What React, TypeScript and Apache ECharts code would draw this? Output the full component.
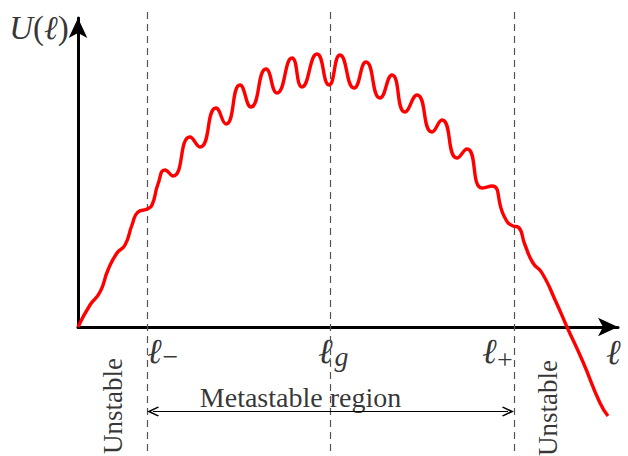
import React, { useEffect, useRef } from 'react';
import * as echarts from 'echarts';

// Potential curve U(ℓ) (extremes of the ripples and shoulder points)
const curveX = [0, 0.12, 0.22, 0.30, 0.39, 0.47, 0.54, 0.60, 0.69, 0.74, 0.80, 0.87, 0.95, 1.12, 1.22, 1.38, 1.48, 1.62, 1.73, 1.88, 1.99, 2.14, 2.24, 2.39, 2.51, 2.62, 2.76, 2.88, 3.02, 3.14, 3.27, 3.39, 3.54, 3.64, 3.79, 3.89, 4.04, 4.14, 4.26, 4.35, 4.40, 4.47, 4.55, 4.64, 4.78, 4.89, 5.05, 5.22, 5.30];
const curveY = [0, 0.22, 0.35, 0.57, 0.74, 0.82, 1.02, 1.15, 1.18, 1.22, 1.43, 1.57, 1.51, 1.90, 1.80, 2.19, 2.03, 2.42, 2.20, 2.58, 2.34, 2.69, 2.40, 2.73, 2.42, 2.72, 2.39, 2.65, 2.29, 2.52, 2.15, 2.32, 1.95, 2.07, 1.69, 1.78, 1.39, 1.41, 1.11, 1.01, 1.00, 0.82, 0.64, 0.54, 0.25, 0, -0.35, -0.76, -0.89];

// Boundaries ℓ−, ℓg, ℓ+
const boundaryX = [0.69, 2.52, 4.36];
const boundaryMain = ['ℓ', 'ℓ', 'ℓ'];
const boundarySub = ['−', 'g', '+'];

const axisTitleX = 'ℓ';
const regionMiddle = 'Metastable region';
const regionOuter = 'Unstable';

const SERIF = '"Liberation Serif", "DejaVu Serif", serif';

export default function App() {
  const ref = useRef<HTMLDivElement>(null);

  useEffect(() => {
    if (!ref.current) return;
    const chart = echarts.init(ref.current, null, { renderer: 'svg' });

    const xMax = 5.4;
    const yMaxAxes = 3.09;
    const yMin2 = -1.29;
    const yMax2 = 3.27;

    const mainSize = 35;
    const subSize = 28;

    // label layout offsets relative to each boundary
    const mainOffset = [[0.075, -0.245], [-0.045, -0.245], [-0.245, -0.245]];
    const subOffset = [[0.235, -0.296], [0.115, -0.29], [-0.09, -0.326]];

    const lbl = (value: number[], text: string, extra: any) => ({
      value,
      label: { formatter: text, fontFamily: SERIF, color: '#000', ...extra },
    });

    const labelData: any[] = [];
    boundaryX.forEach((bx, k) => {
      labelData.push(lbl([bx + mainOffset[k][0], mainOffset[k][1]], boundaryMain[k], { fontSize: mainSize, fontStyle: 'italic' }));
      labelData.push(lbl([bx + subOffset[k][0], subOffset[k][1]], boundarySub[k], { fontSize: subSize, fontStyle: boundarySub[k] === 'g' ? 'italic' : 'normal' }));
    });
    labelData.push(lbl([5.355, -0.255], axisTitleX, { fontSize: mainSize, fontStyle: 'italic' }));
    labelData.push({
      value: [-0.39, 2.99],
      label: {
        formatter: '{i|U}{r|(}{i|ℓ}{r|)}',
        rich: {
          i: { fontFamily: SERIF, fontStyle: 'italic', fontSize: 33, color: '#000' },
          r: { fontFamily: SERIF, fontSize: 33, color: '#000' },
        },
      },
    });
    labelData.push(lbl([(boundaryX[0] + boundaryX[2]) / 2 - 0.3, -0.70], regionMiddle, { fontSize: 28 }));
    labelData.push(lbl([boundaryX[0] - 0.34, -0.79], regionOuter, { fontSize: 27, rotate: 90 }));
    labelData.push(lbl([boundaryX[2] + 0.34, -0.81], regionOuter, { fontSize: 27, rotate: 90 }));

    const arrowHead = 'path://M5,0 L10,10 L9,11 L5,3.5 L1,11 L0,10 Z';

    chart.setOption({
      animation: false,
      grid: [
        { left: 78, right: 10, top: 18, bottom: 129 },
        { left: 78, right: 10, top: 0, bottom: 0 },
      ],
      xAxis: [
        {
          gridIndex: 0, type: 'value', min: 0, max: xMax,
          axisLine: { show: true, symbol: ['none', 'arrow'], symbolSize: [14, 20], lineStyle: { color: '#000', width: 3 } },
          axisTick: { show: false }, axisLabel: { show: false }, splitLine: { show: false },
        },
        { gridIndex: 1, type: 'value', min: 0, max: xMax, show: false },
      ],
      yAxis: [
        {
          gridIndex: 0, type: 'value', min: 0, max: yMaxAxes,
          axisLine: { show: true, symbol: ['none', 'arrow'], symbolSize: [14, 20], lineStyle: { color: '#000', width: 3 } },
          axisTick: { show: false }, axisLabel: { show: false }, splitLine: { show: false },
        },
        { gridIndex: 1, type: 'value', min: yMin2, max: yMax2, show: false },
      ],
      series: [
        {
          type: 'line',
          xAxisIndex: 1, yAxisIndex: 1,
          data: curveX.map((x, k) => [x, curveY[k]]),
          smooth: 0.55,
          showSymbol: false,
          symbol: 'none',
          clip: false,
          lineStyle: { color: '#ff0000', width: 3.4 },
          z: 5,
          markLine: {
            silent: true,
            symbol: ['none', 'none'],
            label: { show: false },
            lineStyle: { color: '#555', width: 1.2, type: [7, 5] },
            data: boundaryX.map((bx) => [{ coord: [bx, 3.15] }, { coord: [bx, -1.27] }]),
          },
        },
        {
          type: 'scatter',
          xAxisIndex: 1, yAxisIndex: 1,
          symbolSize: 0,
          clip: false,
          silent: true,
          data: labelData,
          label: { show: true, position: 'inside', align: 'center', verticalAlign: 'middle' },
          markLine: {
            silent: true,
            symbol: [arrowHead, arrowHead],
            symbolSize: [10, 12],
            label: { show: false },
            lineStyle: { color: '#000', width: 1, type: 'solid' },
            data: [[{ coord: [boundaryX[0] + 0.06, -0.845] }, { coord: [boundaryX[2] - 0.06, -0.845] }]],
          },
        },
      ],
    });

    return () => chart.dispose();
  }, []);

  return <div ref={ref} style={{ position: 'fixed', left: 0, top: 0, width: 628, height: 456, background: '#fff' }} />;
}
